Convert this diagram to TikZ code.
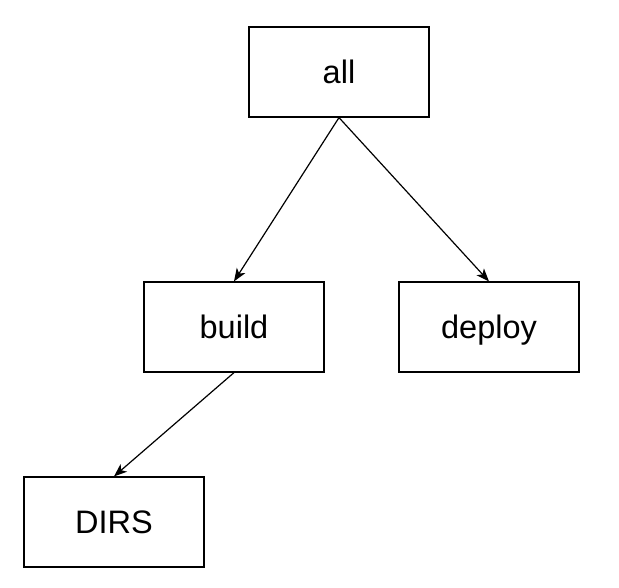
\documentclass[tikz,border=0pt]{standalone}
\usepackage{fontspec}
\setmainfont{Liberation Sans}
\usetikzlibrary{arrows.meta}
\begin{document}
\begin{tikzpicture}[x=1pt,y=-1pt,
  box/.style={draw=black, line width=1.2pt, minimum width=180pt, minimum height=90pt, inner sep=0pt, text height=23pt, text depth=1pt, font=\fontsize{32.5}{38}\selectfont},
  conn/.style={draw=black, line width=1.2pt, -{Stealth[length=13pt,width=10pt,inset=3.5pt]}}]
\useasboundingbox (0,0) rectangle (619,587);
\node[box] (all) at (339,72) {all};
\node[box] (build) at (234,327) {build};
\node[box] (deploy) at (489,327) {deploy};
\node[box] (dirs) at (114,522) {DIRS};
\draw[conn] (all.south) -- (build.north);
\draw[conn] (all.south) -- (deploy.north);
\draw[conn] (build.south) -- (dirs.north);
\end{tikzpicture}
\end{document}
